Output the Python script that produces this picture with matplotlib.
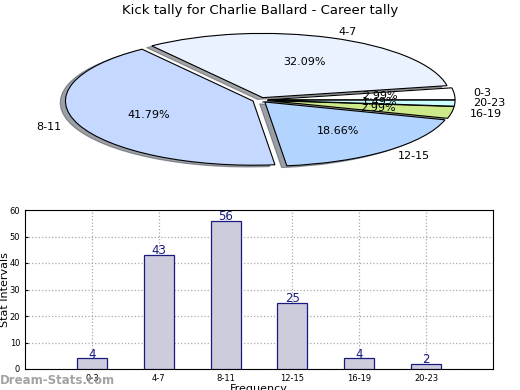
import matplotlib
matplotlib.use('Agg')
import matplotlib.pyplot as plt
import numpy as np

# kick tally data
cats = ['0-3', '4-7', '8-11', '12-15', '16-19', '20-23']
counts = [4, 43, 56, 25, 4, 2]
pie_colors = ['#ffffff', '#eaf2ff', '#c5d8ff', '#b3d4ff', '#cdea8a', '#ccffff']

fig = plt.figure(figsize=(5.2, 3.9), dpi=100)
fig.text(0.5, 0.972, 'Kick tally for Charlie Ballard - Career tally',
         ha='center', va='center', fontsize=9.5)

## pie on top, squashed into an ellipse
axp = fig.add_axes([0.096, 0.564, 0.808, 0.359])
wedges, texts, autotexts = axp.pie(counts, labels=cats, colors=pie_colors,
                                   explode=[0.04] * len(counts), shadow=True,
                                   autopct='%.2f%%', startangle=0,
                                   wedgeprops={'edgecolor': 'black', 'linewidth': 0.8},
                                   textprops={'fontsize': 8})
axp.set_aspect('auto')
axp.set_xlim(-1.12, 1.12)
axp.set_ylim(-1.09, 1.09)

## bar chart below
axb = fig.add_axes([25 / 520, 21 / 390, 468 / 520, 159 / 390])
x = np.arange(1, len(cats) + 1)
axb.bar(x, counts, width=0.45, color='#ccccdd', edgecolor='#1a1a80', linewidth=0.9, zorder=3)
for xi, c in zip(x, counts):
    axb.annotate(str(c), (xi, c), xytext=(0, 3), textcoords='offset points',
                 ha='center', va='center', color='#1a1a80', fontsize=8.5, zorder=4)
axb.set_xlim(0, 7)
axb.set_ylim(0, 60)
axb.set_xticks(x)
axb.set_xticklabels(cats)
axb.set_yticks(range(0, 61, 10))
axb.tick_params(labelsize=6, length=2, direction='in')
axb.grid(True, linestyle=':', color='#aaaaaa', linewidth=0.9)
axb.set_ylabel('Stat Intervals', fontsize=8)
axb.yaxis.set_label_coords(-0.032, 0.5)
axb.set_xlabel('Frequency', fontsize=8, labelpad=1)

fig.text(0.0, 0.008, 'Dream-Stats.com', color='#999999', fontsize=8.5,
         fontweight='bold', ha='left', va='bottom', alpha=0.9)

fig.savefig('out.png', dpi=100)
